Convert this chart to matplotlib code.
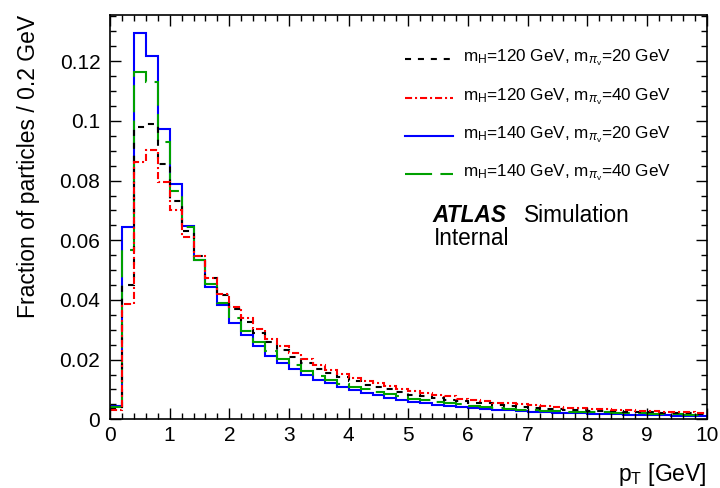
import numpy as np
import matplotlib
matplotlib.use('Agg')
import matplotlib.pyplot as plt
from matplotlib.ticker import MultipleLocator, FuncFormatter

plt.rcParams['font.family'] = ['Liberation Sans', 'DejaVu Sans']
plt.rcParams['mathtext.fontset'] = 'custom'
plt.rcParams['mathtext.rm'] = 'Liberation Sans'
plt.rcParams['mathtext.it'] = 'Liberation Sans:italic'
plt.rcParams['mathtext.bf'] = 'Liberation Sans:bold'

# pT bins of 0.2 GeV from 0 to 10 GeV
bin_width = 0.2
bin_edges = np.arange(0, 10 + bin_width / 2, bin_width)

# fraction of particles per bin
mh120_m20 = [0.0035, 0.0449, 0.0978, 0.0988, 0.0855, 0.0732, 0.0631, 0.0546, 0.0475, 0.0416,
             0.0371, 0.0326, 0.0289, 0.0259, 0.0231, 0.0209, 0.0189, 0.0170, 0.0155, 0.0142,
             0.0128, 0.0116, 0.0108, 0.0100, 0.0092, 0.0083, 0.0077, 0.0071, 0.0066, 0.0060,
             0.0056, 0.0053, 0.0049, 0.0045, 0.0041, 0.0038, 0.0036, 0.0033, 0.0032, 0.0030,
             0.0029, 0.0028, 0.0027, 0.0025, 0.0024, 0.0023, 0.0022, 0.0021, 0.0020, 0.0019]
mh120_m40 = [0.0030, 0.0388, 0.0863, 0.0902, 0.0796, 0.0701, 0.0611, 0.0548, 0.0475, 0.0419,
             0.0377, 0.0338, 0.0301, 0.0270, 0.0245, 0.0222, 0.0201, 0.0181, 0.0164, 0.0151,
             0.0140, 0.0128, 0.0120, 0.0111, 0.0103, 0.0095, 0.0088, 0.0083, 0.0077, 0.0069,
             0.0064, 0.0060, 0.0056, 0.0053, 0.0050, 0.0047, 0.0044, 0.0041, 0.0039, 0.0037,
             0.0035, 0.0034, 0.0032, 0.0030, 0.0029, 0.0027, 0.0026, 0.0024, 0.0023, 0.0021]
mh140_m20 = [0.0044, 0.0645, 0.1293, 0.1217, 0.0972, 0.0790, 0.0647, 0.0535, 0.0444, 0.0382,
             0.0324, 0.0284, 0.0245, 0.0211, 0.0189, 0.0167, 0.0148, 0.0133, 0.0120, 0.0108,
             0.0097, 0.0088, 0.0080, 0.0073, 0.0066, 0.0058, 0.0055, 0.0049, 0.0046, 0.0042,
             0.0038, 0.0035, 0.0032, 0.0030, 0.0028, 0.0026, 0.0023, 0.0022, 0.0021, 0.0020,
             0.0019, 0.0018, 0.0017, 0.0016, 0.0015, 0.0014, 0.0013, 0.0012, 0.0011, 0.0010]
mh140_m40 = [0.0040, 0.0567, 0.1164, 0.1131, 0.0930, 0.0765, 0.0643, 0.0535, 0.0453, 0.0391,
             0.0338, 0.0295, 0.0258, 0.0229, 0.0203, 0.0181, 0.0162, 0.0144, 0.0131, 0.0117,
             0.0108, 0.0101, 0.0092, 0.0084, 0.0077, 0.0069, 0.0064, 0.0058, 0.0055, 0.0050,
             0.0046, 0.0041, 0.0038, 0.0035, 0.0031, 0.0030, 0.0028, 0.0027, 0.0026, 0.0025,
             0.0024, 0.0023, 0.0022, 0.0021, 0.0020, 0.0019, 0.0018, 0.0017, 0.0016, 0.0016]

labels = [r'm$_{\mathrm{H}}$=120 GeV, m$_{\pi_{\mathrm{v}}}$=20 GeV',
          r'm$_{\mathrm{H}}$=120 GeV, m$_{\pi_{\mathrm{v}}}$=40 GeV',
          r'm$_{\mathrm{H}}$=140 GeV, m$_{\pi_{\mathrm{v}}}$=20 GeV',
          r'm$_{\mathrm{H}}$=140 GeV, m$_{\pi_{\mathrm{v}}}$=40 GeV']
series = [mh120_m20, mh120_m40, mh140_m20, mh140_m40]
colors = ['black', '#ff0000', '#0000ff', '#00a000']
styles = [(0, (2.9, 3.3)), (0, (3.4, 1.4, 1.0, 1.4)), '-', (0, (13, 4))]
draw_order = [2, 3, 0, 1]

fig = plt.figure(figsize=(7.2, 4.88), dpi=100)
ax = fig.add_axes([0.1528, 0.1408, 0.8287, 0.8285])

for i in draw_order:
    ax.stairs(series[i], bin_edges, color=colors[i], linestyle=styles[i], lw=1.5,
              baseline=None)

ax.set_xlim(0, 10)
ax.set_ylim(0, 0.1355)

ax.xaxis.set_major_locator(MultipleLocator(1))
ax.xaxis.set_minor_locator(MultipleLocator(0.2))
ax.yaxis.set_major_locator(MultipleLocator(0.02))
ax.yaxis.set_minor_locator(MultipleLocator(0.005))
ax.yaxis.set_major_formatter(FuncFormatter(lambda v, p: '%g' % round(v, 4)))
ax.tick_params(which='both', direction='in', top=True, right=True, width=1.0,
               labelsize=15)
ax.tick_params(which='major', length=8)
ax.tick_params(which='minor', length=4.5)
ax.tick_params(axis='x', pad=5)
ax.tick_params(axis='y', pad=7)
for s in ax.spines.values():
    s.set_linewidth(1.2)

ax.set_xlabel(r'p$_{\mathrm{T}}$ [GeV]', fontsize=16.5, loc='right', labelpad=11)
ax.set_ylabel('Fraction of particles / 0.2 GeV', fontsize=16.5, loc='top')
ax.yaxis.set_label_coords(-0.117, 1.0)

# legend drawn by hand, ROOT style
row_y = [0.890, 0.795, 0.700, 0.606]
for i in range(4):
    ax.plot([0.4944, 0.5748], [row_y[i], row_y[i]], transform=ax.transAxes,
            color=colors[i], linestyle=styles[i], lw=1.5, clip_on=False)
    ax.text(0.591, row_y[i] - 0.006, labels[i], transform=ax.transAxes,
            fontsize=12.3, va='baseline', ha='left')

ax.text(0.541, 0.4875, 'ATLAS', transform=ax.transAxes, fontsize=16.3,
        fontweight='bold', fontstyle='italic', va='baseline')
ax.text(0.6938, 0.4875, 'Simulation', transform=ax.transAxes, fontsize=16.3,
        va='baseline')
ax.text(0.543, 0.432, 'Internal', transform=ax.transAxes, fontsize=16.3,
        va='baseline')

fig.savefig('out.png', dpi=100)
